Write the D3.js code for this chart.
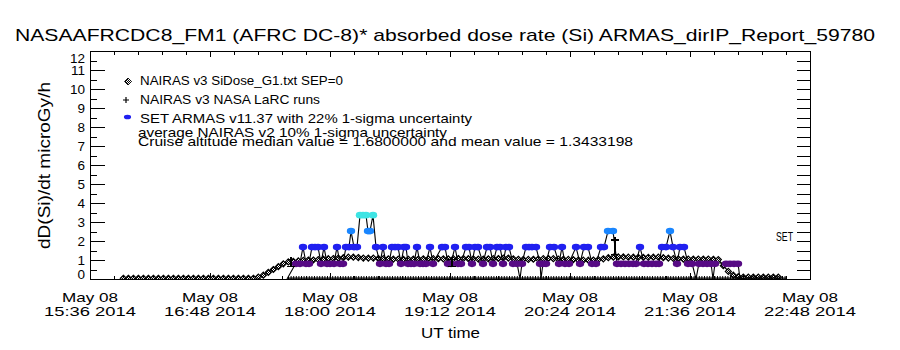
<!DOCTYPE html>
<html>
<head>
<meta charset="utf-8">
<script src="https://cdn.jsdelivr.net/npm/d3@7/dist/d3.min.js"></script>
<style>
html,body{margin:0;padding:0;background:#fff;}
svg{display:block;}
text{font-family:"Liberation Sans","DejaVu Sans",sans-serif;fill:#000;}
.ax path,.ax line{stroke:#000;stroke-width:1;shape-rendering:crispEdges;}
</style>
</head>
<body>
<svg id="chart" width="900" height="350"></svg>
<script>
// ---------------- data ----------------
const titleText = "NASAAFRCDC8_FM1 (AFRC DC-8)* absorbed dose rate (Si) ARMAS_dirIP_Report_59780";
const yTitle = "dD(Si)/dt microGy/h";
const xTitle = "UT time";
const rightLabel = "SET";
const legendLabels = [
  "NAIRAS v3 SiDose_G1.txt SEP=0",
  "NAIRAS v3 NASA LaRC runs",
  "SET ARMAS v11.37 with 22% 1-sigma uncertainty",
  "average NAIRAS v2 10% 1-sigma uncertainty",
  "Cruise altitude median value = 1.6800000 and mean value = 1.3433198"
];
const flightDay = "2014-05-08";
const xTickDay = "May 08";
const xTickYear = "2014";
const xTickTimes = ["15:36","16:48","18:00","19:12","20:24","21:36","22:48"];
const yTickValues = [0,1,2,3,4,5,6,7,8,9,10,11,12];
const yMinorValues = [0.5,1.5,2.5,3.5,4.5,5.5,6.5,7.5,8.5,9.5,10.5,11.5];
const rightTickValues = [0.5,1,1.5,2,2.5,3,3.5,4,4.5,5,5.5,6,6.5,7,7.5,8,8.5,9,9.5,10,10.5,11,11.5];

// SET ARMAS dose rate (microGy/h), time in minutes after 15:36 UT
const armasMinutes = [
 118.2,123.6,126.0,127.8,129.6,131.4,133.2,135.0,136.8,138.6,
 140.4,142.2,144.0,146.4,148.2,150.0,151.8,153.6,155.4,156.6,
 158.4,160.2,162.0,163.8,165.6,166.8,168.0,169.8,171.6,174.0,
 175.8,177.6,179.4,181.2,183.0,184.8,186.6,188.4,189.6,190.8,
 192.6,194.4,196.2,198.0,199.8,201.6,204.0,205.8,211.2,213.0,
 214.8,216.6,219.0,220.8,222.6,225.6,227.4,229.2,231.0,232.8,
 235.8,238.2,240.0,241.8,244.2,246.0,247.8,249.6,251.4,253.8,
 256.2,258.0,259.2,261.6,263.4,265.2,267.6,270.0,270.6,271.8,
 273.6,276.0,278.4,281.4,283.2,285.0,287.4,291.6,294.0,296.4,
 298.8,301.2,303.6,306.6,308.4,310.8,313.8,316.2,318.6,321.0,
 323.4,325.8,327.6,330.0,332.4,334.8,337.2,339.6,341.4,343.2,
 345.6,348.0,349.8,352.2,354.0,356.4,358.8,361.2,363.6,365.4,
 367.8,370.2,372.6,373.8,375.0,381.6,384.0,386.4,388.8,390.0
];
const armasDose = [
 0,0.84,0.84,1.68,0.84,0.84,1.68,1.68,1.68,0.84,
 1.68,0.84,0.84,0.84,1.68,0.84,0.84,1.68,1.68,2.52,
 1.68,1.68,3.36,3.36,3.36,2.52,2.52,3.36,1.68,0.84,
 1.68,0.84,0.84,1.68,1.68,1.68,0.84,1.68,1.68,0.84,
 0.84,0.84,1.68,0.84,0.84,0.84,1.68,0.84,1.68,1.68,
 0.84,0.84,1.68,0.84,0.84,1.68,1.68,0.84,1.68,1.68,
 0.84,1.68,1.68,0.84,1.68,1.68,0.84,1.68,1.68,0.84,
 0.84,0,0.84,1.68,1.68,1.68,1.68,0.84,0,0.84,
 0.84,1.68,1.68,0.84,1.68,0.84,0.84,1.68,0.84,1.68,
 1.68,0.84,0.84,1.68,1.68,2.52,2.52,0.84,0.84,0.84,
 0.84,0.84,0.84,1.68,0.84,0.84,0.84,0.84,0.84,1.68,
 1.68,2.52,1.68,0.84,1.68,1.68,0.84,0.84,0,0.84,
 0.84,0.84,0.84,0,0.84,0.84,0.84,0.84,0.84,0
];
const armasUncertainty = 0.22;
const errMinutes = [120.6, 217.2, 315.0];
const errDose = [0.84, 0.84, 1.68];

// NAIRAS v3 SiDose model
const nairasMinutes = [
 20,23,26,29,32,35,38,41,44,47,50,53,56,59,62,65,68,71,74,77,80,83,86,89,92,95,98,
 101,104,107,110,113,116,119,122,125,128,
 131,134,137,140,143,146,149,152,155,158,
 161,164,167,170,173,176,179,182,185,188,
 191,194,197,200,203,206,209,212,215,218,
 221,224,227,230,233,236,239,242,245,248,
 251,254,257,260,263,266,269,272,275,278,
 281,284,287,290,293,296,299,302,305,308,
 311,314,317,320,323,326,329,332,335,338,
 341,344,347,350,353,356,359,362,365,368,
 371,374,377,380,383,386,389,392,395,398,
 401,404,407,410,413
];
const nairasDose = [
 0.04,0.04,0.04,0.04,0.04,0.04,0.04,0.04,0.04,0.04,0.04,0.04,0.04,0.04,0.04,0.04,0.04,0.04,0.04,0.04,0.04,0.04,0.04,0.04,0.04,0.04,0.04,
 0.1,0.2,0.35,0.5,0.65,0.8,0.9,0.93,0.95,0.98,
 1.0,1.0,1.02,1.05,1.07,1.08,1.1,1.12,1.15,1.15,
 1.13,1.1,1.1,1.1,1.08,1.07,1.06,1.05,1.05,1.04,
 1.04,1.05,1.05,1.06,1.06,1.07,1.07,1.06,1.06,1.07,
 1.08,1.08,1.07,1.06,1.05,1.05,1.06,1.07,1.08,1.1,
 1.1,1.06,1.04,1.03,1.03,1.04,1.05,1.07,1.08,1.07,
 1.05,1.04,1.03,1.02,1.0,0.99,0.99,1.0,1.02,1.06,
 1.12,1.15,1.16,1.16,1.15,1.15,1.14,1.14,1.14,1.15,
 1.15,1.12,1.1,1.08,1.06,1.05,1.05,1.05,1.05,1.05,
 1.05,1.04,1.02,0.7,0.4,0.2,0.12,0.1,0.1,0.1,
 0.1,0.1,0.1,0.1,0.1
];

// NAIRAS v3 NASA LaRC runs
const larcMinutes = [118.8, 417.6];
const larcDose = [0.05, 0.05];

// ---------------- chart ----------------
const svg = d3.select("#chart");
const L = 90, R = 810, T = 51, B = 279;
const parseT = d3.utcParse("%Y-%m-%d %H:%M");
const majorDates = xTickTimes.map(s => parseT(flightDay + " " + s));
const t0 = majorDates[0];
const at = mins => new Date(t0.getTime() + mins * 60000);
const x = d3.scaleUtc().domain([majorDates[0], majorDates[majorDates.length - 1]]).range([L, R]);
const y = d3.scaleLinear().domain([yTickValues[0], yTickValues[yTickValues.length - 1]]).range([B, T]);

const minorDates = [];
for (let i = 0; i < majorDates.length - 1; i++) {
  const a = +majorDates[i], b = +majorDates[i + 1];
  for (let k = 1; k < 5; k++) minorDates.push(new Date(a + (b - a) * k / 5));
}

const defs = svg.append("defs");
defs.append("clipPath").attr("id", "plotclip").append("rect")
  .attr("x", L).attr("y", T).attr("width", R - L).attr("height", B - T);
const pat = defs.append("pattern").attr("id", "chk").attr("width", 2).attr("height", 2)
  .attr("patternUnits", "userSpaceOnUse");
pat.append("rect").attr("width", 2).attr("height", 2).attr("fill", "#fff");
pat.append("rect").attr("width", 1).attr("height", 1).attr("fill", "#000");
pat.append("rect").attr("x", 1).attr("y", 1).attr("width", 1).attr("height", 1).attr("fill", "#000");

// title
svg.append("text").attr("x", 15).attr("y", 41).attr("font-size", 17)
  .attr("textLength", 860).attr("lengthAdjust", "spacingAndGlyphs").text(titleText);

// axes
const ax = svg.append("g").attr("class", "ax");
ax.append("g").attr("transform", `translate(0,${B})`)
  .call(d3.axisBottom(x).tickValues(majorDates).tickSize(-6).tickSizeOuter(0).tickFormat(""));
ax.append("g").attr("transform", `translate(0,${B})`)
  .call(d3.axisBottom(x).tickValues(minorDates).tickSize(-3.5).tickSizeOuter(0).tickFormat(""))
  .select(".domain").remove();
ax.append("g").attr("transform", `translate(0,${T})`)
  .call(d3.axisTop(x).tickValues(majorDates).tickSize(-6).tickSizeOuter(0).tickFormat(""));
ax.append("g").attr("transform", `translate(0,${T})`)
  .call(d3.axisTop(x).tickValues(minorDates).tickSize(-3.5).tickSizeOuter(0).tickFormat(""))
  .select(".domain").remove();

const gl = ax.append("g").attr("transform", `translate(${L},0)`)
  .call(d3.axisLeft(y).tickValues(yTickValues).tickSize(-15).tickSizeOuter(0).tickPadding(5).tickFormat(d3.format("d")));
gl.attr("font-size", null).attr("font-family", null);
gl.selectAll("text").attr("font-size", 13.5).attr("fill", "#000")
  .attr("y", d => d === yTickValues[0] ? -5 : (d === yTickValues[yTickValues.length - 1] ? 7 : 0));
ax.append("g").attr("transform", `translate(${L},0)`)
  .call(d3.axisLeft(y).tickValues(yMinorValues).tickSize(-7).tickSizeOuter(0).tickFormat(""))
  .select(".domain").remove();
ax.append("g").attr("transform", `translate(${R},0)`)
  .call(d3.axisRight(y).tickValues(rightTickValues).tickSize(-13).tickSizeOuter(0).tickFormat(""));

// x tick labels (two lines)
const xl = svg.append("g").attr("font-size", 13.5).attr("text-anchor", "middle");
majorDates.forEach((d, i) => {
  xl.append("text").attr("x", x(d)).attr("y", 301.5)
    .attr("textLength", 56).attr("lengthAdjust", "spacingAndGlyphs").text(xTickDay);
  xl.append("text").attr("x", x(d)).attr("y", 316)
    .attr("textLength", 92).attr("lengthAdjust", "spacingAndGlyphs").text(xTickTimes[i] + " " + xTickYear);
});
svg.append("text").attr("x", 421).attr("y", 338).attr("font-size", 15)
  .attr("textLength", 59).attr("lengthAdjust", "spacingAndGlyphs").text(xTitle);
svg.append("text").attr("transform", "translate(50,249) rotate(-90)").attr("font-size", 16)
  .attr("textLength", 167).attr("lengthAdjust", "spacingAndGlyphs").text(yTitle);
svg.append("text").attr("x", 776).attr("y", 241).attr("font-size", 12)
  .attr("textLength", 17).attr("lengthAdjust", "spacingAndGlyphs").text(rightLabel);

// ---------------- marks ----------------
const armas = armasMinutes.map((m, i) => ({t: at(m), v: armasDose[i]}));
const nairas = nairasMinutes.map((m, i) => ({t: at(m), v: nairasDose[i]}));
const larc = larcMinutes.map((m, i) => ({t: at(m), v: larcDose[i]}));
const errs = errMinutes.map((m, i) => ({t: at(m), v: errDose[i]}));

const line = d3.line().x(d => x(d.t)).y(d => y(d.v));
const color = d3.scaleThreshold().domain([1.2, 2.1, 2.9])
  .range(["#560a84", "#2020f0", "#1a86ff", "#3ee4e4"]);
const diamond = (cx, cy, r) => `M${cx},${cy - r}L${cx + r},${cy}L${cx},${cy + r}L${cx - r},${cy}Z`;

const plot = svg.append("g").attr("clip-path", "url(#plotclip)");

// NAIRAS SiDose
plot.append("path").datum(nairas).attr("d", line)
  .attr("fill", "none").attr("stroke", "#000").attr("stroke-width", 1.2);
plot.selectAll("path.nai").data(nairas).join("path")
  .attr("class", "nai")
  .attr("d", d => diamond(x(d.t), y(d.v), 3))
  .attr("fill", "url(#chk)").attr("stroke", "#000").attr("stroke-width", 1.2);

// ARMAS line + markers
plot.append("path").datum(armas).attr("d", line)
  .attr("fill", "none").attr("stroke", "#000").attr("stroke-width", 1.1);
plot.selectAll("ellipse.armas").data(armas.filter(d => d.v > 0.1)).join("ellipse")
  .attr("class", "armas")
  .attr("cx", d => x(d.t)).attr("cy", d => y(d.v) + (d.v < 1.2 ? 0.8 : 0))
  .attr("rx", 4.2).attr("ry", 3.3)
  .attr("fill", d => color(d.v));

// LaRC runs (row of + markers)
plot.append("path").datum(larc).attr("d", line)
  .attr("fill", "none").attr("stroke", "#000").attr("stroke-width", 1.2);
plot.append("path").datum(larc).attr("d", line)
  .attr("fill", "none").attr("stroke", "#000").attr("stroke-width", 4)
  .attr("stroke-dasharray", "1 1.6");

// error bars
const eb = plot.append("g").attr("stroke", "#000").attr("stroke-width", 1.2).attr("shape-rendering", "crispEdges");
errs.forEach(d => {
  const cx = x(d.t), lo = y(d.v * (1 - armasUncertainty)), hi = y(d.v * (1 + armasUncertainty));
  eb.append("line").attr("x1", cx).attr("x2", cx).attr("y1", lo).attr("y2", hi - 3);
  eb.append("line").attr("x1", cx - 4).attr("x2", cx + 4).attr("y1", lo).attr("y2", lo);
  eb.append("line").attr("x1", cx - 4).attr("x2", cx + 4).attr("y1", hi).attr("y2", hi);
});

// box
svg.append("rect").attr("x", L).attr("y", T).attr("width", R - L).attr("height", B - T)
  .attr("fill", "none").attr("stroke", "#000").attr("shape-rendering", "crispEdges");

// ---------------- legend ----------------
const lg = svg.append("g");
lg.append("path").attr("d", diamond(128, 81.5, 3.5)).attr("fill", "url(#chk)")
  .attr("stroke", "#000").attr("stroke-width", 0.9);
lg.append("path").attr("d", "M123,100H129M126,97V103").attr("stroke", "#000").attr("stroke-width", 1.2);
lg.append("ellipse").attr("cx", 127.5).attr("cy", 117).attr("rx", 3.6).attr("ry", 2.3).attr("fill", color(1.68));
const legPos = [[140, 84.5, 203], [140, 103.5, 180], [140, 122.5, 332], [138, 137, 309], [138, 146, 495]];
legendLabels.forEach((s, i) => {
  lg.append("text").attr("x", legPos[i][0]).attr("y", legPos[i][1]).attr("font-size", 13)
    .attr("textLength", legPos[i][2]).attr("lengthAdjust", "spacingAndGlyphs").text(s);
});
</script>
</body>
</html>
